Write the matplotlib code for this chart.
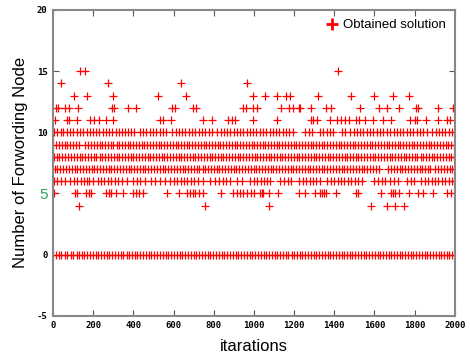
import matplotlib
matplotlib.use('Agg')
import matplotlib.pyplot as plt
from matplotlib.lines import Line2D

# iterations where the obtained solution took each value
lvl0 = [0, 14, 30, 41, 58, 70, 88, 101, 117, 130, 142, 156, 171, 183, 199, 212, 224, 240, 253, 268, 281, 296,
        310, 322, 337, 350, 366, 379, 391, 407, 420, 433, 449, 461, 478, 490, 503, 519, 531, 548, 560, 574, 589,
        602, 615, 630, 643, 659, 671, 686, 700, 712, 728, 741, 756, 769, 782, 798, 811, 824, 840, 852, 868, 881,
        895, 909, 922, 937, 950, 964, 979, 991, 1006, 1020, 1033, 1048, 1061, 1075, 1090, 1103, 1117, 1130, 1145,
        1158, 1171, 1187, 1200, 1213, 1228, 1241, 1256, 1270, 1283, 1298, 1311, 1325, 1339, 1352, 1367, 1380,
        1394, 1408, 1421, 1436, 1449, 1463, 1477, 1490, 1505, 1518, 1532, 1546, 1559, 1574, 1587, 1601, 1615,
        1628, 1643, 1656, 1670, 1684, 1697, 1712, 1725, 1739, 1753, 1766, 1781, 1794, 1808, 1822, 1835, 1850,
        1863, 1877, 1891, 1904, 1919, 1932, 1946, 1960, 1973, 1988, 2000]
lvl4 = [131, 758, 1073, 1581, 1660, 1703, 1746]
lvl5 = [5, 111, 118, 164, 181, 191, 264, 277, 290, 313, 350, 397, 413, 430, 450, 566, 626, 665, 682, 695, 708,
        725, 748, 837, 894, 914, 930, 947, 967, 987, 1000, 1030, 1040, 1046, 1076, 1122, 1222, 1255, 1302, 1328,
        1341, 1351, 1361, 1408, 1507, 1517, 1633, 1680, 1693, 1703, 1720, 1773, 1819, 1842, 1892, 1959, 1982]
lvl6 = [5, 21, 40, 58, 87, 104, 121, 138, 155, 169, 181, 198, 222, 239, 256, 273, 290, 307, 324, 341, 368, 400,
        417, 434, 456, 490, 510, 530, 557, 584, 601, 618, 635, 652, 669, 686, 703, 720, 744, 781, 808, 826, 844,
        862, 879, 917, 943, 982, 999, 1016, 1033, 1050, 1067, 1079, 1132, 1150, 1168, 1186, 1226, 1243, 1260,
        1277, 1294, 1311, 1328, 1365, 1382, 1399, 1416, 1433, 1450, 1467, 1484, 1501, 1518, 1540, 1599, 1617,
        1635, 1651, 1679, 1697, 1715, 1763, 1781, 1795, 1833, 1850, 1867, 1884, 1901, 1918, 1935, 1952, 1969,
        1986, 2000]
lvl7 = [8, 22, 36, 51, 64, 79, 93, 107, 121, 135, 150, 163, 178, 192, 206, 220, 234, 249, 262, 277, 291, 305,
        319, 333, 348, 361, 376, 390, 404, 418, 432, 447, 460, 475, 489, 503, 517, 531, 546, 559, 574, 588, 602,
        616, 630, 645, 658, 673, 687, 701, 715, 729, 744, 757, 772, 786, 800, 814, 828, 843, 856, 871, 885, 899,
        913, 927, 942, 955, 970, 984, 998, 1012, 1026, 1041, 1054, 1069, 1083, 1097, 1111, 1125, 1140, 1153,
        1168, 1182, 1196, 1210, 1224, 1239, 1252, 1267, 1281, 1295, 1309, 1323, 1338, 1351, 1366, 1380, 1394,
        1408, 1422, 1437, 1450, 1465, 1479, 1493, 1507, 1521, 1536, 1549, 1564, 1578, 1592, 1606, 1620, 1668,
        1682, 1697, 1711, 1725, 1739, 1753, 1768, 1781, 1796, 1810, 1824, 1838, 1852, 1867, 1878, 1903, 1917,
        1931, 1946, 1959, 1974, 1988, 1999]
lvl8 = [3, 19, 32, 47, 61, 74, 90, 103, 119, 133, 145, 161, 174, 189, 203, 216, 232, 245, 259, 274, 287, 302,
        316, 329, 345, 358, 371, 387, 400, 414, 429, 442, 457, 471, 484, 499, 512, 527, 541, 554, 569, 583, 596,
        611, 625, 638, 653, 667, 680, 695, 709, 722, 737, 751, 764, 779, 793, 806, 821, 835, 848, 863, 877, 890,
        905, 919, 932, 947, 961, 974, 989, 1003, 1016, 1031, 1045, 1058, 1073, 1087, 1100, 1115, 1129, 1142,
        1157, 1171, 1184, 1199, 1213, 1226, 1241, 1255, 1268, 1283, 1297, 1310, 1325, 1339, 1352, 1367, 1381,
        1394, 1409, 1423, 1436, 1451, 1465, 1478, 1493, 1507, 1520, 1535, 1549, 1562, 1577, 1591, 1604, 1619,
        1633, 1646, 1661, 1675, 1688, 1703, 1717, 1730, 1745, 1759, 1772, 1787, 1801, 1814, 1829, 1843, 1856,
        1871, 1885, 1898, 1913, 1927, 1940, 1955, 1969, 1982, 1997]
lvl9 = [2, 16, 29, 45, 58, 72, 87, 100, 114, 128, 161, 175, 190, 203, 217, 232, 245, 259, 274, 287, 301, 316,
        329, 343, 358, 371, 385, 400, 413, 427, 442, 455, 469, 484, 497, 511, 526, 539, 553, 568, 581, 595, 610,
        623, 637, 652, 665, 679, 694, 707, 721, 736, 749, 763, 778, 791, 805, 820, 833, 847, 862, 875, 889, 904,
        917, 931, 946, 959, 973, 988, 1001, 1015, 1030, 1043, 1057, 1072, 1085, 1099, 1114, 1127, 1141, 1156,
        1169, 1183, 1198, 1211, 1225, 1240, 1253, 1267, 1282, 1295, 1309, 1324, 1337, 1351, 1366, 1379, 1393,
        1408, 1421, 1435, 1450, 1463, 1477, 1492, 1505, 1519, 1534, 1547, 1561, 1576, 1589, 1603, 1618, 1631,
        1645, 1660, 1673, 1687, 1702, 1715, 1729, 1744, 1757, 1771, 1786, 1799, 1813, 1828, 1841, 1855, 1870,
        1883, 1897, 1912, 1925, 1939, 1954, 1967, 1981, 1996]
lvl10 = [5, 20, 38, 52, 70, 86, 101, 118, 134, 150, 168, 183, 199, 216, 231, 248, 264, 279, 296, 312, 328, 345,
         358, 373, 389, 403, 432, 448, 465, 481, 497, 514, 530, 547, 563, 594, 610, 627, 643, 659, 676, 692, 708,
         725, 741, 757, 774, 792, 818, 834, 851, 867, 883, 900, 916, 929, 947, 963, 980, 996, 1012, 1029, 1045,
         1061, 1078, 1094, 1110, 1127, 1143, 1159, 1176, 1193, 1256, 1272, 1291, 1330, 1346, 1363, 1379, 1395,
         1436, 1451, 1480, 1496, 1513, 1529, 1545, 1562, 1576, 1594, 1610, 1627, 1643, 1660, 1679, 1695, 1712,
         1728, 1744, 1761, 1777, 1793, 1810, 1826, 1842, 1859, 1888, 1904, 1921, 1937, 1953, 1970, 1987]
lvl11 = [12, 71, 81, 121, 184, 204, 227, 264, 297, 532, 546, 586, 748, 791, 871, 891, 904, 997, 1113, 1282,
         1295, 1312, 1378, 1414, 1431, 1451, 1471, 1507, 1524, 1554, 1591, 1640, 1683, 1776, 1803, 1813, 1856,
         1915, 1959, 1975]
lvl12 = [15, 25, 58, 81, 124, 294, 303, 373, 413, 592, 605, 698, 711, 944, 960, 997, 1017, 1133, 1176, 1196,
         1222, 1229, 1282, 1358, 1385, 1527, 1620, 1660, 1720, 1809, 1816, 1915, 1989]
lvl13 = [104, 168, 300, 522, 660, 997, 1053, 1116, 1159, 1179, 1320, 1481, 1597, 1693, 1771]
lvl14 = [41, 274, 635, 967]
lvl15 = [135, 160, 1420]

levels = {0: lvl0, 4: lvl4, 5: lvl5, 6: lvl6, 7: lvl7, 8: lvl8, 9: lvl9, 10: lvl10,
          11: lvl11, 12: lvl12, 13: lvl13, 14: lvl14, 15: lvl15}

xticks = [0, 200, 400, 600, 800, 1000, 1200, 1400, 1600, 1800, 2000]
yticks = [-5, 0, 5, 10, 15, 20]

fig = plt.figure(figsize=(4.7, 3.56), dpi=100)
ax = fig.add_axes([0.1128, 0.113, 0.855, 0.859])

for v, xs in levels.items():
    ax.plot(xs, [v] * len(xs), linestyle='none', marker='+', color='red',
            markersize=5.5, markeredgewidth=0.9)

ax.set_xlim(0, 2000)
ax.set_ylim(-5, 20)
ax.set_xticks(xticks)
ax.set_yticks(yticks)
ax.set_xticklabels([str(t) for t in xticks], family='DejaVu Sans Mono', weight='bold', fontsize=6.5)
ax.set_yticklabels([str(t) for t in yticks], family='DejaVu Sans Mono', weight='bold', fontsize=6.5)
lab5 = ax.get_yticklabels()[2]
lab5.set_color('#22aa55')
lab5.set_fontsize(11)
lab5.set_family('Liberation Sans')
lab5.set_weight('normal')
ax.tick_params(direction='in', top=True, right=True, length=4, color='#555555', width=0.8, pad=4)

for s in ax.spines.values():
    s.set_color('#888888')
    s.set_linewidth(1.5)

ax.set_xlabel('itarations', family='Liberation Sans', fontsize=12, labelpad=6)
ax.set_ylabel('Number of Forwording Node', family='Liberation Sans', fontsize=12, labelpad=6)

h = Line2D([], [], linestyle='none', marker='+', color='red', markersize=9, markeredgewidth=2)
ax.legend([h], ['Obtained solution'], loc='upper right', frameon=False,
          prop={'family': 'Liberation Sans', 'size': 9.5}, handletextpad=0.2,
          borderaxespad=0.3, handlelength=1.2)

fig.savefig('out.png', dpi=100)
